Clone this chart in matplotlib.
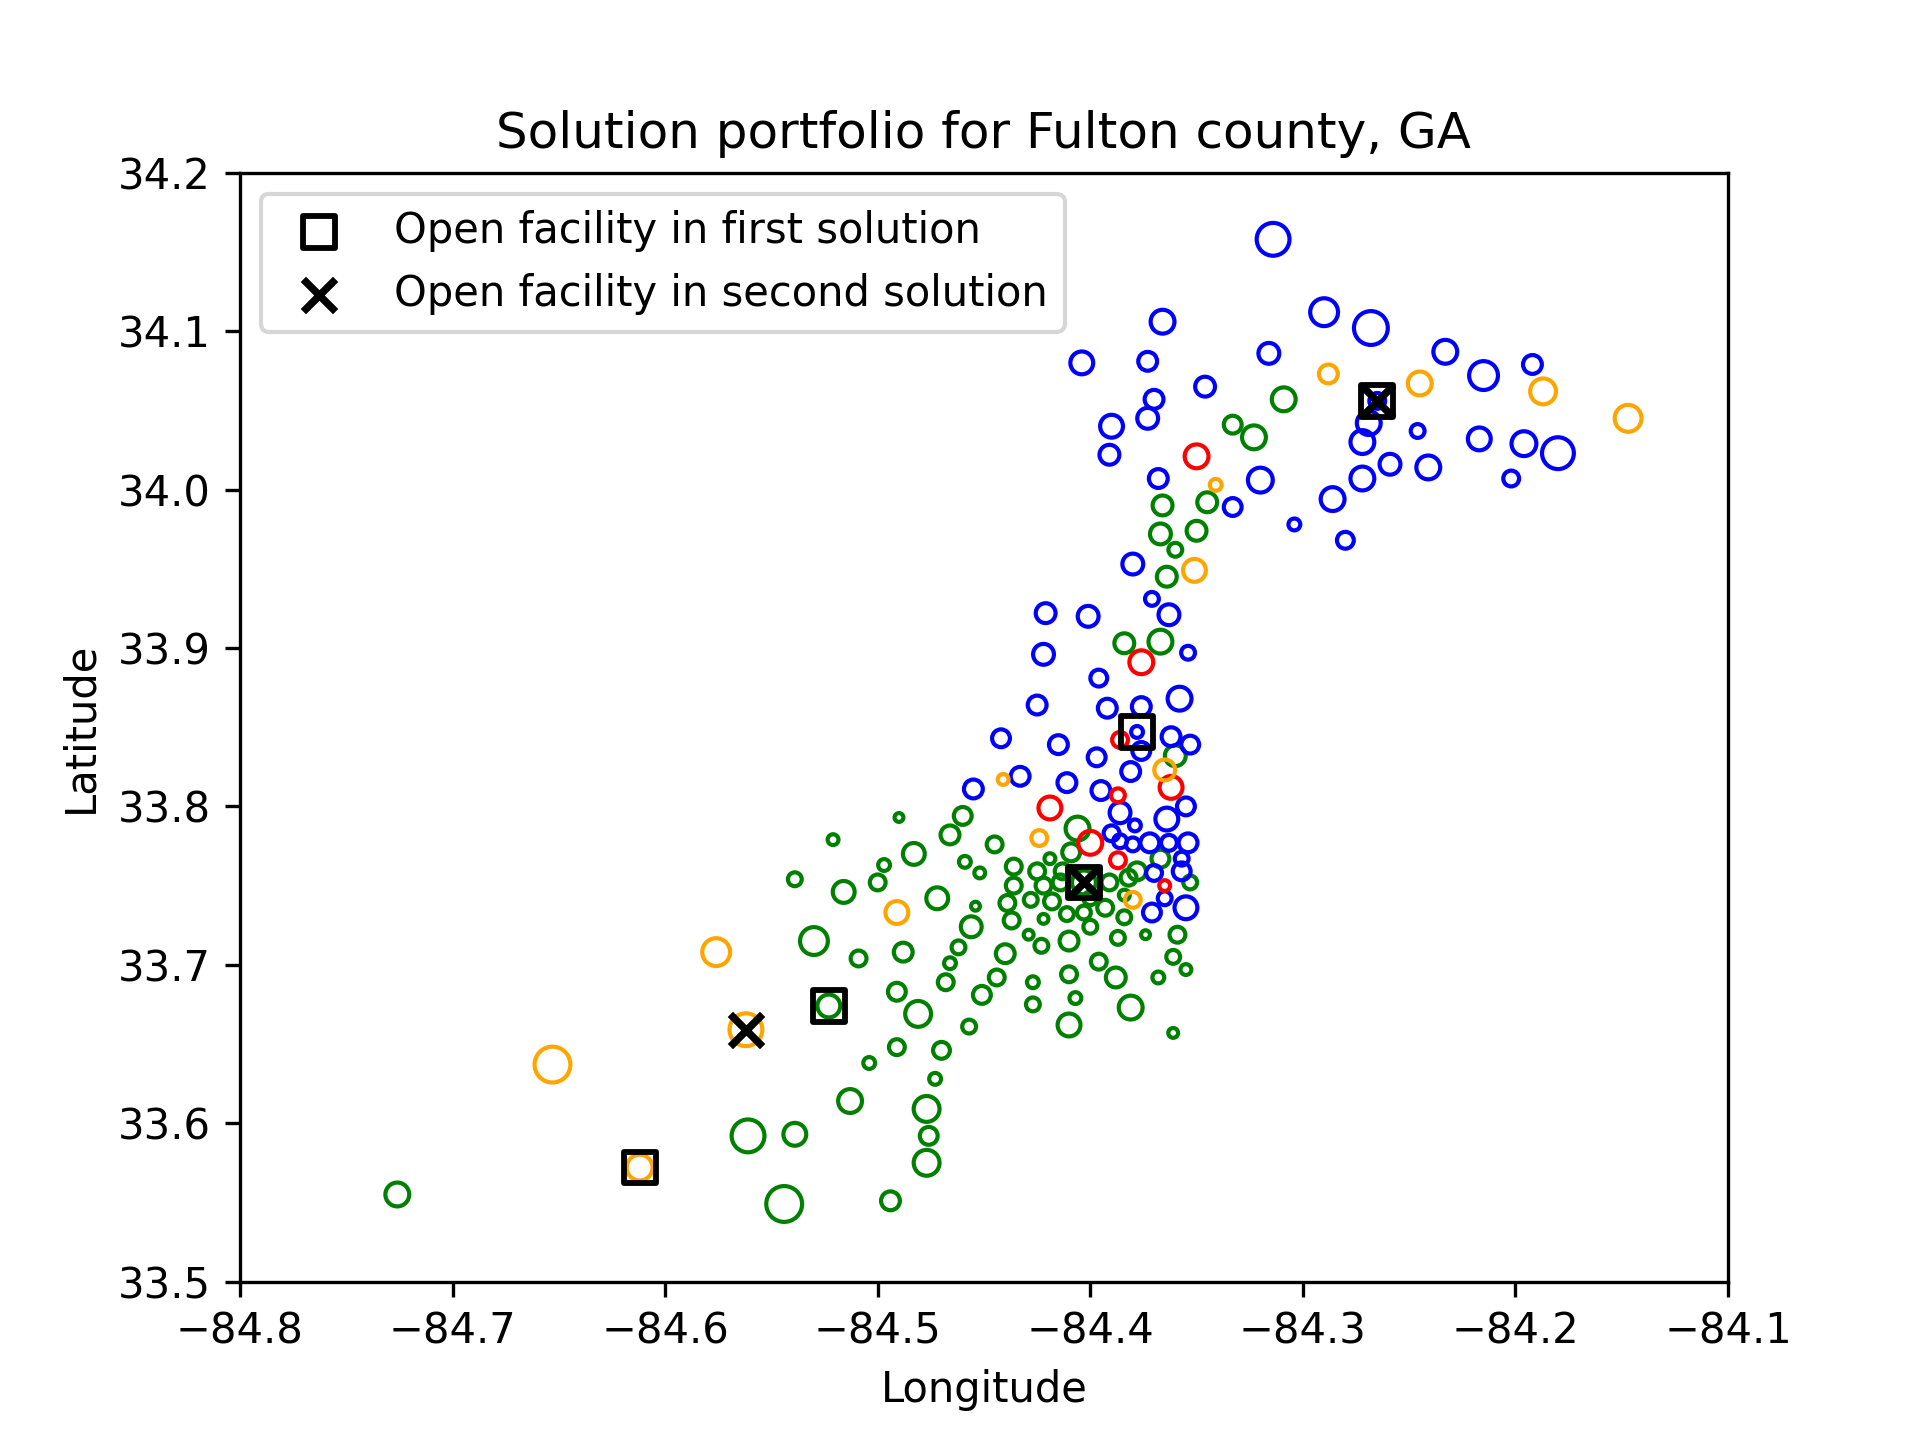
import matplotlib
matplotlib.use("Agg")
import matplotlib.pyplot as plt
import numpy as np

# ---- data: (longitude, latitude, weight) per demand point, by colour group ----
blue_lon = [-84.314, -84.366, -84.290, -84.268, -84.404, -84.373, -84.316, -84.346, -84.370, -84.373,
            -84.390, -84.265, -84.269, -84.272, -84.259, -84.391, -84.368, -84.320, -84.272, -84.286,
            -84.333, -84.304, -84.280, -84.380, -84.233, -84.192, -84.215, -84.246, -84.217, -84.196,
            -84.180, -84.241, -84.202, -84.371, -84.421, -84.401, -84.363, -84.422, -84.354, -84.396,
            -84.358, -84.425, -84.392, -84.376, -84.378, -84.362, -84.353, -84.442, -84.415, -84.376,
            -84.397, -84.381, -84.433, -84.411, -84.395, -84.355, -84.455, -84.386, -84.364, -84.379,
            -84.390, -84.386, -84.380, -84.372, -84.363, -84.354, -84.357, -84.370, -84.357, -84.365,
            -84.355, -84.371]
blue_lat = [34.158, 34.106, 34.112, 34.102, 34.080, 34.081, 34.086, 34.065, 34.057, 34.045,
            34.040, 34.056, 34.042, 34.030, 34.016, 34.022, 34.007, 34.006, 34.007, 33.994,
            33.989, 33.978, 33.968, 33.953, 34.087, 34.079, 34.072, 34.037, 34.032, 34.029,
            34.023, 34.014, 34.007, 33.931, 33.922, 33.920, 33.921, 33.896, 33.897, 33.881,
            33.868, 33.864, 33.862, 33.863, 33.847, 33.844, 33.839, 33.843, 33.839, 33.835,
            33.831, 33.822, 33.819, 33.815, 33.810, 33.800, 33.811, 33.796, 33.792, 33.788,
            33.783, 33.778, 33.776, 33.777, 33.777, 33.777, 33.767, 33.758, 33.759, 33.742,
            33.736, 33.733]
blue_w = [37, 28, 32, 38, 27, 23, 25, 24, 23, 25,
          27, 20, 28, 28, 25, 24, 23, 29, 28, 28,
          22, 16, 21, 25, 28, 23, 33, 18, 27, 29,
          36, 28, 20, 18, 24, 25, 25, 25, 18, 21,
          28, 23, 23, 23, 16, 23, 22, 22, 23, 22,
          22, 23, 23, 23, 23, 22, 23, 25, 27, 16,
          20, 18, 18, 23, 20, 23, 18, 20, 22, 18,
          27, 22]

red_lon = [-84.350, -84.376, -84.386, -84.362, -84.387, -84.419, -84.400, -84.387, -84.365]
red_lat = [34.021, 33.891, 33.842, 33.812, 33.807, 33.799, 33.777, 33.766, 33.750]
red_w = [28, 28, 20, 27, 18, 27, 28, 20, 15]

orange_lon = [-84.288, -84.245, -84.187, -84.147, -84.341, -84.351, -84.365, -84.441, -84.424,
              -84.380, -84.491, -84.576, -84.562, -84.653, -84.612]
orange_lat = [34.073, 34.067, 34.062, 34.045, 34.003, 33.949, 33.823, 33.817, 33.780,
              33.741, 33.733, 33.708, 33.659, 33.637, 33.572]
orange_w = [23, 28, 30, 31, 16, 27, 25, 15, 20, 20, 27, 32, 37, 40, 30]

green_lon = [-84.309, -84.333, -84.323, -84.345, -84.366, -84.350, -84.367, -84.360, -84.364, -84.384,
             -84.367, -84.360, -84.406, -84.409, -84.419, -84.367, -84.378, -84.382, -84.353, -84.384,
             -84.391, -84.403, -84.414, -84.400, -84.393, -84.384, -84.400, -84.403, -84.411, -84.418,
             -84.413, -84.422, -84.425, -84.436, -84.436, -84.439, -84.437, -84.428, -84.422, -84.429,
             -84.423, -84.410, -84.387, -84.374, -84.359, -84.361, -84.355, -84.368, -84.396, -84.388,
             -84.410, -84.427, -84.440, -84.444, -84.451, -84.427, -84.407, -84.381, -84.410, -84.457,
             -84.361, -84.490, -84.460, -84.466, -84.483, -84.445, -84.459, -84.452, -84.497, -84.500,
             -84.521, -84.539, -84.516, -84.472, -84.454, -84.456, -84.462, -84.466, -84.468, -84.488,
             -84.491, -84.530, -84.509, -84.481, -84.523, -84.491, -84.470, -84.504, -84.473, -84.513,
             -84.477, -84.476, -84.477, -84.561, -84.539, -84.544, -84.494, -84.726]
green_lat = [34.057, 34.041, 34.033, 33.992, 33.990, 33.974, 33.972, 33.962, 33.945, 33.903,
             33.904, 33.832, 33.786, 33.771, 33.767, 33.767, 33.759, 33.755, 33.752, 33.744,
             33.752, 33.752, 33.752, 33.742, 33.736, 33.730, 33.724, 33.733, 33.732, 33.740,
             33.759, 33.750, 33.759, 33.762, 33.750, 33.739, 33.728, 33.741, 33.729, 33.719,
             33.712, 33.715, 33.717, 33.719, 33.719, 33.705, 33.697, 33.692, 33.702, 33.692,
             33.694, 33.689, 33.707, 33.692, 33.681, 33.675, 33.679, 33.673, 33.662, 33.661,
             33.657, 33.793, 33.794, 33.782, 33.770, 33.776, 33.765, 33.758, 33.763, 33.752,
             33.779, 33.754, 33.746, 33.742, 33.737, 33.724, 33.711, 33.701, 33.689, 33.708,
             33.683, 33.715, 33.704, 33.669, 33.674, 33.648, 33.646, 33.638, 33.628, 33.614,
             33.609, 33.592, 33.575, 33.592, 33.593, 33.549, 33.551, 33.555]
green_w = [28, 22, 28, 24, 24, 24, 25, 18, 24, 24,
           28, 25, 28, 22, 15, 22, 22, 20, 18, 15,
           20, 28, 20, 18, 20, 18, 18, 18, 18, 20,
           20, 20, 20, 20, 20, 20, 20, 18, 14, 14,
           18, 23, 18, 13, 20, 18, 15, 16, 20, 24,
           20, 16, 23, 20, 22, 18, 16, 28, 27, 18,
           14, 13, 22, 23, 26, 20, 16, 15, 16, 20,
           15, 18, 26, 26, 13, 25, 18, 16, 20, 23,
           22, 32, 20, 30, 27, 20, 21, 16, 16, 28,
           30, 22, 30, 37, 27, 40, 23, 28]

first_lon = [-84.612, -84.523, -84.378, -84.403, -84.265]
first_lat = [33.572, 33.674, 33.847, 33.752, 34.056]
second_lon = [-84.562, -84.403, -84.265]
second_lat = [33.659, 33.752, 34.056]

x_ticks = [-84.8, -84.7, -84.6, -84.5, -84.4, -84.3, -84.2, -84.1]
y_ticks = [33.5, 33.6, 33.7, 33.8, 33.9, 34.0, 34.1, 34.2]

# ---- plotting ----
fig, ax = plt.subplots(figsize=(6.4, 4.8), dpi=300)

PX_PER_PT = 300 / 72.0
CIRCLE_LW = 1.0


def to_area(w):
    # weight read as outer ring diameter in image pixels -> scatter area (pt^2)
    ms = np.asarray(w, dtype=float) / PX_PER_PT - CIRCLE_LW
    return ms ** 2


groups = [
    (green_lon, green_lat, green_w, "green"),
    (blue_lon, blue_lat, blue_w, "blue"),
    (red_lon, red_lat, red_w, "red"),
    (orange_lon, orange_lat, orange_w, "orange"),
]
for lon, lat, w, col in groups:
    ax.scatter(lon, lat, s=to_area(w), facecolors="none", edgecolors=col,
               linewidths=CIRCLE_LW, zorder=2)

ax.scatter(first_lon, first_lat, s=58, marker="s", facecolors="none",
           edgecolors="black", linewidths=1.4, zorder=3,
           label="Open facility in first solution")
ax.scatter(second_lon, second_lat, s=60, marker="x", color="black",
           linewidths=1.8, zorder=4, label="Open facility in second solution")

ax.set_xlim(-84.8, -84.1)
ax.set_ylim(33.5, 34.2)
ax.set_xticks(x_ticks)
ax.set_yticks(y_ticks)
ax.set_xlabel("Longitude")
ax.set_ylabel("Latitude")
ax.set_title("Solution portfolio for Fulton county, GA")
ax.legend(loc="upper left")

fig.savefig("out.png", dpi=300)
